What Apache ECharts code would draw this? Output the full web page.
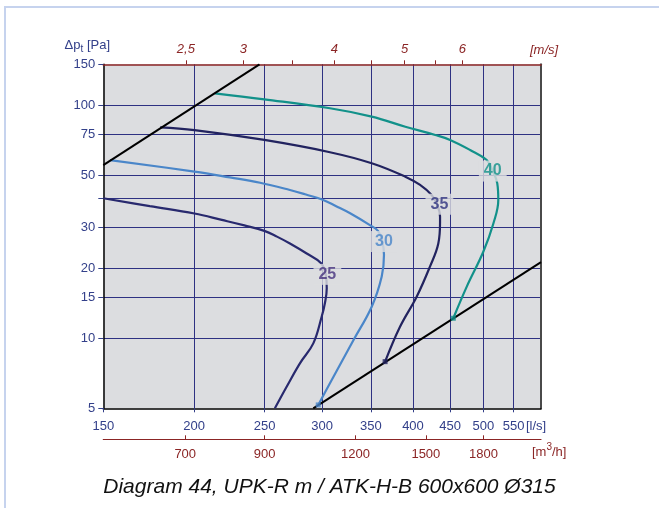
<!DOCTYPE html>
<html><head><meta charset="utf-8">
<script src="https://cdn.jsdelivr.net/npm/echarts@6/dist/echarts.min.js"></script>
<style>html,body{margin:0;padding:0;background:#fff}#c{width:659px;height:508px}</style>
</head><body><div id="c"></div>
<script>
// ---- data ----
const flowTicks = [150, 200, 250, 300, 350, 400, 450, 500, 550];      // l/s
const velTicks = [2.5, 3, 3.5, 4, 4.5, 5, 5.5, 6];                     // m/s
const velLabels = [2.5, 3, 4, 5, 6];
const m3hTicks = [700, 900, 1200, 1500, 1800];                        // m3/h
const pTicks = [5, 10, 15, 20, 30, 40, 50, 75, 100, 150];             // Pa
const pLabels = [5, 10, 15, 20, 30, 50, 75, 100, 150];
const ductDiameter = 0.315; // m

const curve25 = [[150,39.9],[173.8,36.9],[200.2,34.3],[218.3,32.2],[234.5,30.5],[249.8,28.9],[260,27.3],[270.9,25.5],[285.7,23.1],[299,21.0],[303.5,18.7],[304.4,16.4],[302.7,14.2],[299.6,12.4],[291.7,9.5],[279.6,7.8],[268.2,6.2],[258.3,5.0]];
const curve30 = [[153.2,58.2],[200.2,51.9],[224.1,49.0],[246.5,46.5],[270.9,43.3],[285,41.4],[299.9,39.4],[313.6,36.9],[327.8,34.4],[349,30.6],[358,28.9],[363,26.0],[364.9,22.8],[362.3,18.4],[351,13.65],[331.2,9.8],[307.5,6.4],[296.3,5.17]];
const curve35 = [[179.6,80.4],[200.2,78.3],[249.8,71.0],[307.5,62.9],[351,56.4],[390.4,49.4],[409.1,45.5],[424.3,41.2],[431.6,37.6],[435.8,33.2],[435.8,31.5],[433.4,25.5],[422.1,20.3],[404.7,15.07],[383.9,11.2],[366.2,7.93]];
const curve40 = [[213.6,112.6],[249.8,106.1],[307.5,97.1],[351,89.4],[390.4,80.9],[429.3,74.6],[449.9,71.0],[479.3,64.3],[505.2,58.2],[515,52.2],[522.4,46.2],[524.1,39.2],[516,31.1],[499.8,23.5],[474.3,16.65],[454.5,12.18]];
const limitUpper = [[150,55.4],[246,150]];
const limitLower = [[291.7,5],[600,21.2]];
const curveNames = ['25', '30', '35', '40'];
const labelPoints = [[305,18.8],[364.9,26.0],[434.9,37.6],[515,52.2]];

// ---- chart ----
const area = Math.PI * ductDiameter * ductDiameter / 4 * 1000; // l/s per m/s
const navy = '#33408a', red = '#8b2525', grid = '#2e3182';
const curveColors = ['#28296e', '#4a86c9', '#22235f', '#12918a'];
const labelColors = ['#46327e', '#4a86c9', '#30337f', '#12918a'];
const font = 'Liberation Sans, Arial, sans-serif';
const curves = [curve25, curve30, curve35, curve40];

const series = curves.map((c, i) => ({
  type: 'line', data: c, xAxisIndex: 0, yAxisIndex: 0, smooth: 0.4,
  symbol: 'none', lineStyle: { color: curveColors[i], width: 2.2 }, z: 3, silent: true
}));
[limitUpper, limitLower].forEach(l => series.push({
  type: 'line', data: l, symbol: 'none', lineStyle: { color: '#000', width: 2 }, z: 4, silent: true
}));
series.push({
  type: 'scatter', z: 5, silent: true, symbolSize: 5, symbol: 'rect',
  data: [curve30, curve35, curve40].map((c, i) => ({ value: c[c.length - 1], itemStyle: { color: curveColors[i + 1] } }))
});
series.push({
  type: 'scatter', z: 6, silent: true, symbolSize: 0,
  data: labelPoints.map((p, i) => ({
    value: p,
    label: {
      show: true, position: 'inside', formatter: curveNames[i], color: labelColors[i],
      fontSize: 16, fontWeight: 'bold', fontFamily: font,
      backgroundColor: '#dcdde0', padding: [3, 5, 2, 5]
    }
  }))
});

const chart = echarts.init(document.getElementById('c'));
chart.setOption({
  animation: false,
  backgroundColor: '#fff',
  title: {
    text: 'Diagram 44, UPK-R m / ATK-H-B 600x600 Ø315', left: 'center', top: 472,
    textStyle: { fontStyle: 'italic', fontWeight: 'normal', fontSize: 21, color: '#111', fontFamily: font }
  },
  grid: { left: 103.3, top: 64.3, right: 118, bottom: 99.7, show: true, backgroundColor: '#dcdde0', borderWidth: 0 },
  xAxis: [
    { type: 'log', min: 150, max: 600, position: 'bottom',
      axisLine: { lineStyle: { color: '#000', width: 1.5 } },
      axisTick: { customValues: flowTicks, length: 4, lineStyle: { color: navy } },
      axisLabel: { customValues: flowTicks, color: navy, fontSize: 13, margin: 12, fontFamily: font },
      splitLine: { show: true, showMinLine: false, lineStyle: { color: grid, width: 1 } } },
    { type: 'log', min: 150 / area, max: 600 / area, position: 'top',
      axisLine: { lineStyle: { color: red, width: 1.5 } },
      axisTick: { customValues: velTicks, length: 4, lineStyle: { color: red } },
      axisLabel: { customValues: velLabels, color: red, fontSize: 13, margin: 8, fontStyle: 'italic', fontFamily: font,
        formatter: v => String(v).replace('.', ',') },
      splitLine: { show: false } },
    { type: 'log', min: 150 * 3.6, max: 600 * 3.6, position: 'bottom', offset: 31,
      axisLine: { lineStyle: { color: red, width: 1.2 } },
      axisTick: { customValues: m3hTicks, inside: true, length: 4, lineStyle: { color: red } },
      axisLabel: { customValues: m3hTicks, color: red, fontSize: 13, margin: 9, fontFamily: font,
        formatter: v => String(Math.round(v)) },
      splitLine: { show: false } }
  ],
  yAxis: [
    { type: 'log', min: 5, max: 150,
      axisLine: { lineStyle: { color: '#000', width: 1.5 } },
      axisTick: { customValues: pTicks, length: 5, lineStyle: { color: navy } },
      axisLabel: { customValues: pLabels, color: navy, fontSize: 13, margin: 8, fontFamily: font },
      splitLine: { show: true, showMinLine: false, showMaxLine: false, lineStyle: { color: grid, width: 1 } } },
    { type: 'value', min: 0, max: 1, position: 'right',
      axisLine: { show: true, lineStyle: { color: '#4a4a4a', width: 2 } },
      axisTick: { show: false }, axisLabel: { show: false }, splitLine: { show: false } }
  ],
  graphic: [
    { type: 'line', shape: { x1: 4, y1: 7, x2: 659, y2: 7 }, style: { stroke: '#c6d3ee', lineWidth: 2 } },
    { type: 'line', shape: { x1: 5, y1: 6, x2: 5, y2: 508 }, style: { stroke: '#c6d3ee', lineWidth: 2 } },
    { type: 'text', right: 659 - 110, top: 39, style: {
        text: '{a|Δp}{s|t}{a| [Pa]}', rich: {
          a: { fontSize: 13, fill: navy, fontFamily: font },
          s: { fontSize: 10, fill: navy, fontFamily: font, padding: [8, 0, 0, 0] } } } },
    { type: 'text', left: 530, top: 44, style: { text: '[m/s]', fill: red, fontSize: 13, fontStyle: 'italic', fontFamily: font } },
    { type: 'text', left: 526, top: 420, style: { text: '[l/s]', fill: navy, fontSize: 13, fontFamily: font } },
    { type: 'text', left: 532, top: 442, style: {
        text: '{a|[m}{s|3}{a|/h]}', rich: {
          a: { fontSize: 13, fill: red, fontFamily: font, padding: [4, 0, 0, 0] },
          s: { fontSize: 10, fill: red, fontFamily: font, padding: [0, 0, 6, 0] } } } }
  ],
  series: series
});
</script></body></html>
